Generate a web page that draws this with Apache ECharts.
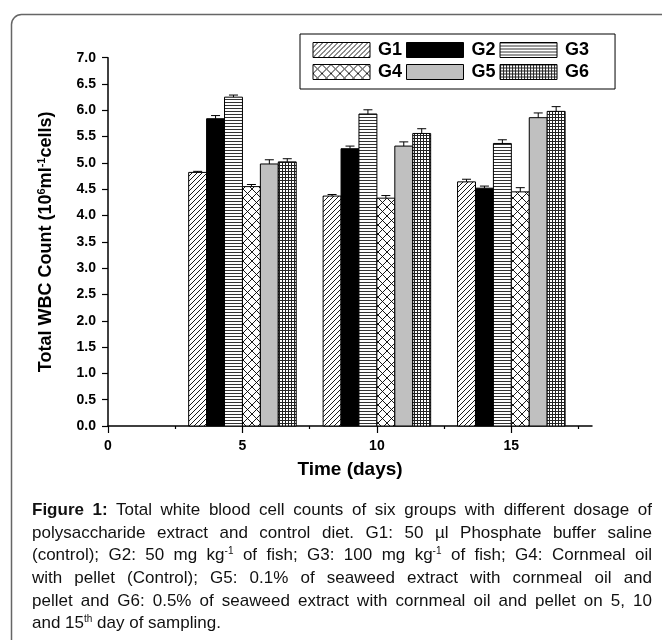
<!DOCTYPE html>
<html>
<head>
<meta charset="utf-8">
<script src="https://cdn.jsdelivr.net/npm/echarts@6/dist/echarts.min.js"></script>
<style>
  html, body { margin: 0; padding: 0; background: #fff; }
  #wrap { position: relative; width: 662px; height: 640px; overflow: hidden; }
  #chart { position: absolute; left: 0; top: 0; width: 662px; height: 640px; }
  #caption {
    position: absolute; left: 32px; top: 499px; width: 620px;
    font-family: "Liberation Sans", Arial, sans-serif;
    font-size: 17px; color: #111; line-height: 22.7px;
  }
  #caption .ln { text-align: justify; text-align-last: justify; white-space: nowrap; height: 22.7px; }
  #caption .ln.last { text-align: left; text-align-last: left; }
  #caption sup { font-size: 10px; line-height: 0; vertical-align: 6px; }
</style>
</head>
<body>
<div id="wrap">
  <div id="chart"></div>
  <div id="caption">
    <div class="ln"><b>Figure 1:</b> Total white blood cell counts of six groups with different dosage of</div>
    <div class="ln">polysaccharide extract and control diet. G1: 50 µl Phosphate buffer saline</div>
    <div class="ln">(control); G2: 50 mg kg<sup>-1</sup> of fish; G3: 100 mg kg<sup>-1</sup> of fish; G4: Cornmeal oil</div>
    <div class="ln">with pellet (Control); G5: 0.1% of seaweed extract with cornmeal oil and</div>
    <div class="ln">pellet and G6: 0.5% of seaweed extract with cornmeal oil and pellet on 5, 10</div>
    <div class="ln last">and 15<sup>th</sup> day of sampling.</div>
  </div>
</div>
<script>
// 数据
const days = [5, 10, 15]
const groupNames = ['G1', 'G2', 'G3', 'G4', 'G5', 'G6']
const g1 = [4.82, 4.37, 4.64]
const g2 = [5.84, 5.27, 4.52]
const g3 = [6.25, 5.93, 5.37]
const g4 = [4.55, 4.33, 4.45]
const g5 = [4.98, 5.32, 5.86]
const g6 = [5.02, 5.56, 5.98]
const g1Err = [0.02, 0.03, 0.05]
const g2Err = [0.06, 0.05, 0.04]
const g3Err = [0.04, 0.08, 0.07]
const g4Err = [0.04, 0.05, 0.08]
const g5Err = [0.08, 0.08, 0.09]
const g6Err = [0.06, 0.09, 0.09]
const yTicks = [0, 0.5, 1, 1.5, 2, 2.5, 3, 3.5, 4, 4.5, 5, 5.5, 6, 6.5, 7]
const xMajorTicks = [0, 5, 10, 15]
const xMinorTicks = [2.5, 7.5, 12.5, 17.5]

const values = [g1, g2, g3, g4, g5, g6]
const errors = [g1Err, g2Err, g3Err, g4Err, g5Err, g6Err]

const FONT = '"Liberation Sans", Arial, sans-serif'

// 填充图案
const makePattern = (w, h, draw) => {
  const c = document.createElement('canvas')
  c.width = w
  c.height = h
  const ctx = c.getContext('2d')
  ctx.fillStyle = '#fff'
  ctx.fillRect(0, 0, w, h)
  draw(ctx)
  return { image: c, repeat: 'repeat' }
}

const patterns = [
  // G1 斜线
  makePattern(5, 5, ctx => {
    ctx.strokeStyle = '#000'
    ctx.lineWidth = 0.9
    ctx.beginPath()
    ctx.moveTo(-1, 6); ctx.lineTo(6, -1)
    ctx.moveTo(-1, 1); ctx.lineTo(1, -1)
    ctx.moveTo(4, 6); ctx.lineTo(6, 4)
    ctx.stroke()
  }),
  '#000',
  // G3 横线
  makePattern(4, 3, ctx => {
    ctx.fillStyle = '#333'
    ctx.fillRect(0, 0, 4, 1)
  }),
  // G4 交叉线
  makePattern(9, 9, ctx => {
    ctx.strokeStyle = '#000'
    ctx.lineWidth = 0.9
    ctx.beginPath()
    ctx.moveTo(0, 0); ctx.lineTo(9, 9)
    ctx.moveTo(0, 9); ctx.lineTo(9, 0)
    ctx.stroke()
  }),
  '#c0c0c0',
  // G6 网格
  makePattern(3, 3, ctx => {
    ctx.fillStyle = '#222'
    ctx.fillRect(0, 0, 3, 1)
    ctx.fillRect(0, 0, 1, 3)
  })
]

const barW = 2 / 3

const makeRender = gi => (params, api) => {
  const x = api.value(0)
  const v = api.value(1)
  const e = api.value(2)
  const tl = api.coord([x - 2 + gi * barW, v])
  const br = api.coord([x - 2 + (gi + 1) * barW, 0])
  const cap = api.coord([x - 2 + (gi + 0.5) * barW, v + e])
  return {
    type: 'group',
    children: [
      {
        type: 'rect',
        shape: { x: tl[0], y: tl[1], width: br[0] - tl[0], height: br[1] - tl[1] },
        style: { fill: patterns[gi], stroke: '#000', lineWidth: 1 }
      },
      {
        type: 'line',
        shape: { x1: cap[0], y1: tl[1], x2: cap[0], y2: cap[1] },
        style: { stroke: '#000', lineWidth: 1 }
      },
      {
        type: 'line',
        shape: { x1: cap[0] - 4.5, y1: cap[1], x2: cap[0] + 4.5, y2: cap[1] },
        style: { stroke: '#000', lineWidth: 1 }
      }
    ]
  }
}

const series = groupNames.map((name, gi) => ({
  name,
  type: 'custom',
  renderItem: makeRender(gi),
  encode: { x: 0, y: 1 },
  itemStyle: { color: patterns[gi], borderColor: '#000', borderWidth: 1 },
  data: days.map((d, i) => [d, values[gi][i], errors[gi][i]])
}))

const chart = echarts.init(document.getElementById('chart'))
chart.setOption({
  animation: false,
  textStyle: { fontFamily: FONT },
  graphic: [
    {
      type: 'rect',
      shape: { x: 11.5, y: 14.5, width: 720, height: 700, r: 10 },
      style: { fill: 'none', stroke: '#666', lineWidth: 1.5 },
      z: -10
    }
  ],
  legend: {
    left: 300,
    top: 34,
    width: 300,
    icon: 'rect',
    itemWidth: 57,
    itemHeight: 15,
    itemGap: 4,
    padding: [7, 26, 8, 12.5],
    borderColor: '#000',
    borderWidth: 1,
    borderRadius: 0,
    itemStyle: { borderColor: '#000', borderWidth: 1 },
    textStyle: {
      fontSize: 18, fontWeight: 'bold', color: '#000', fontFamily: FONT,
      padding: [5, 0, 5, 3]
    },
    data: groupNames
  },
  grid: { left: 108, right: 70, top: 57.7, bottom: 214 },
  xAxis: [
    {
      type: 'value',
      min: 0,
      max: 18,
      name: 'Time (days)',
      nameLocation: 'middle',
      nameGap: 34,
      nameTextStyle: { fontSize: 19, fontWeight: 'bold', color: '#000', fontFamily: FONT },
      axisLine: { lineStyle: { color: '#000', width: 1.5 } },
      axisTick: { customValues: xMajorTicks, length: 7, lineStyle: { color: '#000', width: 1.2 } },
      axisLabel: {
        customValues: xMajorTicks, margin: 13, fontSize: 14, fontWeight: 'bold', color: '#000', fontFamily: FONT
      },
      splitLine: { show: false }
    },
    {
      type: 'value',
      position: 'bottom',
      min: 0,
      max: 18,
      axisLine: { show: false },
      axisTick: { customValues: xMinorTicks, length: 3, lineStyle: { color: '#000', width: 1.2 } },
      axisLabel: { show: false },
      splitLine: { show: false }
    }
  ],
  yAxis: {
    type: 'value',
    min: 0,
    max: 7,
    interval: 0.5,
    name: '{a|Total WBC Count (10}{s|6}{a|ml}{s|-1}{a|cells)}',
    nameLocation: 'middle',
    nameGap: 51,
    nameRotate: 90,
    nameTextStyle: {
      rich: {
        a: { fontSize: 18, fontWeight: 'bold', color: '#000', fontFamily: FONT, lineHeight: 21 },
        s: { fontSize: 11, fontWeight: 'bold', color: '#000', fontFamily: FONT, lineHeight: 12, verticalAlign: 'top' }
      }
    },
    axisLine: { show: true, lineStyle: { color: '#000', width: 1.5 } },
    axisTick: { show: true, customValues: yTicks, length: 6, lineStyle: { color: '#000', width: 1.2 } },
    axisLabel: {
      margin: 12, fontSize: 14, fontWeight: 'bold', color: '#000', fontFamily: FONT,
      formatter: v => v.toFixed(1)
    },
    splitLine: { show: false }
  },
  series
})

// 行太长时横向压缩
document.querySelectorAll('#caption .ln').forEach(ln => {
  const range = document.createRange()
  range.selectNodeContents(ln)
  const w = range.getBoundingClientRect().width
  if (w > 620) {
    const k = 620 / w
    ln.style.width = (620 / k) + 'px'
    ln.style.transform = 'scaleX(' + k + ')'
    ln.style.transformOrigin = 'left top'
  }
})
</script>
</body>
</html>
